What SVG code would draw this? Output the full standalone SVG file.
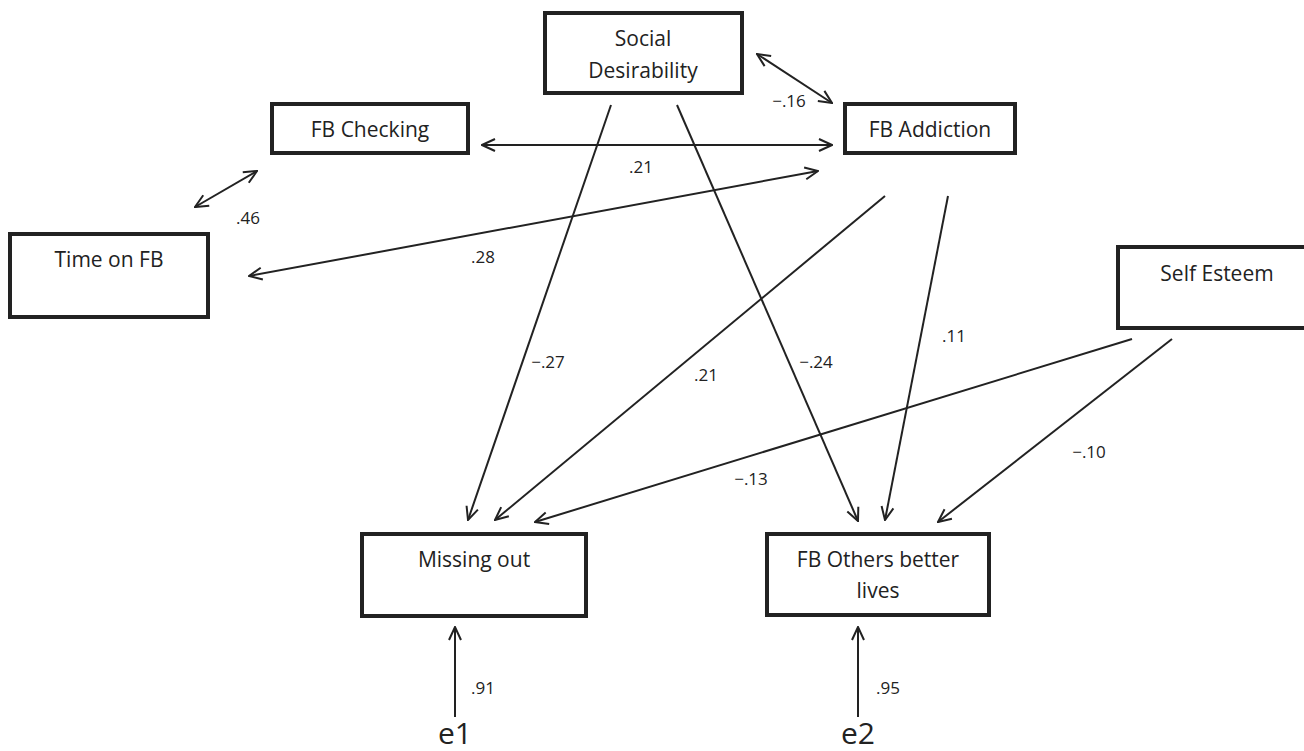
<svg xmlns="http://www.w3.org/2000/svg" width="1304" height="751" viewBox="0 0 1304 751">
<style>
.box{fill:#fff;stroke:#222;stroke-width:4}
.lbl{font-family:"Open Sans","Noto Sans",sans-serif;font-size:21px;fill:#222;text-anchor:middle}
.num{font-family:"Open Sans","Noto Sans",sans-serif;font-size:17px;fill:#222;text-anchor:middle}
.err{font-family:"Open Sans","Noto Sans",sans-serif;font-size:30px;fill:#222;text-anchor:middle}
.c{fill:none;stroke:#222;stroke-width:2;marker-end:url(#ah)}
.d{fill:none;stroke:#222;stroke-width:2;marker-end:url(#ah);marker-start:url(#ah)}
</style>
<defs>
<marker id="ah" viewBox="0 0 16 16" refX="15" refY="8" markerWidth="16" markerHeight="16" markerUnits="userSpaceOnUse" orient="auto-start-reverse">
<path d="M2,2 L15,8 L2,14" fill="none" stroke="#222" stroke-width="2"/>
</marker>
</defs>
<rect width="1304" height="751" fill="#fff"/>
<g id="connectors">
<line class="d" x1="757" y1="54" x2="832" y2="103"/>
<line class="d" x1="482" y1="145" x2="832" y2="145"/>
<line class="d" x1="195" y1="207" x2="257" y2="171"/>
<line class="d" x1="249" y1="276" x2="818" y2="171"/>
<line class="c" x1="611" y1="105" x2="468" y2="520"/>
<line class="c" x1="677" y1="105" x2="858" y2="521"/>
<line class="c" x1="885" y1="196" x2="495" y2="520"/>
<line class="c" x1="948" y1="196" x2="885" y2="520"/>
<line class="c" x1="1132" y1="339" x2="535" y2="522"/>
<line class="c" x1="1172" y1="339" x2="938" y2="522"/>
<line class="c" x1="455" y1="717" x2="455" y2="627"/>
<line class="c" x1="858" y1="717" x2="858" y2="627"/>
<text class="num" x="789" y="107">−.16</text>
<text class="num" x="641" y="173">.21</text>
<text class="num" x="248" y="224">.46</text>
<text class="num" x="483" y="263">.28</text>
<text class="num" x="548" y="368">−.27</text>
<text class="num" x="816" y="368">−.24</text>
<text class="num" x="706" y="381">.21</text>
<text class="num" x="954" y="342">.11</text>
<text class="num" x="751" y="485">−.13</text>
<text class="num" x="1089" y="458">−.10</text>
<text class="num" x="483" y="694">.91</text>
<text class="num" x="888" y="694">.95</text>
</g>
<g id="social-desirability">
<rect class="box" x="545" y="13" width="197" height="80"/>
<text class="lbl" x="643" y="46">Social</text>
<text class="lbl" x="643" y="78">Desirability</text>
</g>
<g id="fb-checking">
<rect class="box" x="272" y="104" width="196" height="49"/>
<text class="lbl" x="370" y="137">FB Checking</text>
</g>
<g id="fb-addiction">
<rect class="box" x="845" y="104" width="170" height="49"/>
<text class="lbl" x="930" y="137">FB Addiction</text>
</g>
<g id="time-on-fb">
<rect class="box" x="10" y="234" width="198" height="83"/>
<text class="lbl" x="109" y="267">Time on FB</text>
</g>
<g id="self-esteem">
<rect class="box" x="1118" y="247" width="190" height="81"/>
<text class="lbl" x="1217" y="281">Self Esteem</text>
</g>
<g id="missing-out">
<rect class="box" x="362" y="534" width="224" height="82"/>
<text class="lbl" x="474" y="567">Missing out</text>
</g>
<g id="fb-others">
<rect class="box" x="767" y="534" width="222" height="81"/>
<text class="lbl" x="878" y="567">FB Others better</text>
<text class="lbl" x="878" y="598">lives</text>
</g>
<g id="e1"><text class="err" x="455" y="744">e1</text></g>
<g id="e2"><text class="err" x="858" y="744">e2</text></g>
</svg>
